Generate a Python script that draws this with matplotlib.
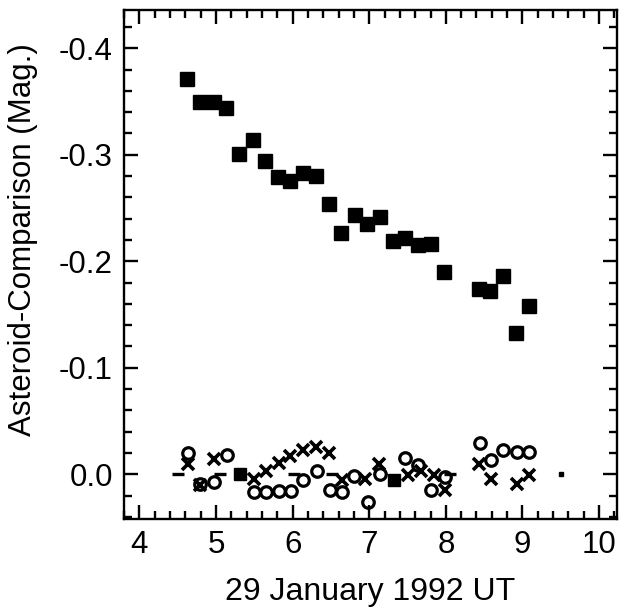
import matplotlib
matplotlib.use("Agg")
import matplotlib.pyplot as plt
from matplotlib.ticker import MultipleLocator, FormatStrFormatter

plt.rcParams['font.family'] = ['Liberation Sans', 'DejaVu Sans']
plt.rcParams['axes.unicode_minus'] = False

# asteroid - comparison (filled squares)
sq_t = [4.62, 4.79, 4.97, 5.13, 5.30, 5.48, 5.64, 5.81, 5.97, 6.13, 6.30, 6.47, 6.63,
        6.81, 6.97, 7.14, 7.31, 7.47, 7.64, 7.81, 7.97, 8.43, 8.58, 8.74, 8.91, 9.09]
sq_m = [-0.371, -0.350, -0.350, -0.344, -0.301, -0.314, -0.294, -0.279, -0.275, -0.283,
        -0.280, -0.254, -0.227, -0.243, -0.235, -0.242, -0.219, -0.222, -0.215, -0.216,
        -0.190, -0.174, -0.172, -0.186, -0.133, -0.158]

# comparison star checks (open circles)
circ_t = [4.64, 4.79, 4.97, 5.14, 5.49, 5.65, 5.82, 5.98, 6.14, 6.32, 6.49, 6.64,
          6.80, 6.99, 7.14, 7.47, 7.64, 7.80, 7.99, 8.45, 8.59, 8.75, 8.93, 9.09]
circ_m = [-0.020, 0.009, 0.007, -0.018, 0.017, 0.017, 0.016, 0.016, 0.005, -0.003,
          0.015, 0.017, 0.002, 0.026, 0.0, -0.015, -0.009, 0.015, 0.003, -0.029,
          -0.013, -0.023, -0.021, -0.021]

# crosses
x_t = [4.64, 4.79, 4.97, 5.49, 5.65, 5.82, 5.97, 6.13, 6.30, 6.48, 6.64, 6.95,
       7.13, 7.50, 7.67, 7.84, 7.99, 8.43, 8.59, 8.93, 9.09]
x_m = [-0.010, 0.010, -0.014, 0.004, -0.003, -0.011, -0.017, -0.023, -0.026, -0.020,
       0.005, 0.004, -0.010, 0.001, -0.003, 0.001, 0.015, -0.010, 0.004, 0.009, 0.001]

# dashes at zero
d_t = [4.51, 5.05, 6.02, 6.52, 8.05]
d_m = [0.0, 0.0, 0.0, 0.0, 0.0]

# overlapping blobs near zero and a lone dot
blob_t = [5.31, 7.32]
blob_m = [0.0, 0.005]
dot_t = [9.50]
dot_m = [0.0]

fig = plt.figure(figsize=(6.28, 6.08), dpi=100)
ax = fig.add_axes([0.1975, 0.1464, 0.7845, 0.8372])

ax.plot(sq_t, sq_m, 's', color='black', markersize=9.6)
ax.plot(blob_t, blob_m, 's', color='black', markersize=8)
ax.plot(d_t, d_m, '_', color='black', markersize=9, mew=2.4)
ax.plot(circ_t, circ_m, 'o', mfc='none', mec='black', markersize=8.3, mew=2.3)
ax.plot(x_t, x_m, 'x', color='black', markersize=9, mew=2.6)
ax.plot(dot_t, dot_m, 's', color='black', markersize=3)

ax.set_xlim(3.8, 10.23)
ax.set_ylim(0.042, -0.436)

ax.xaxis.set_major_locator(MultipleLocator(1))
ax.xaxis.set_minor_locator(MultipleLocator(0.2))
ax.yaxis.set_major_locator(MultipleLocator(0.1))
ax.yaxis.set_minor_locator(MultipleLocator(0.02))
ax.yaxis.set_major_formatter(FormatStrFormatter('%.1f'))

ax.tick_params(which='both', direction='in', top=True, right=True, width=1.7,
               labelsize=22.5, colors='black')
ax.tick_params(which='major', length=10, pad=8)
ax.tick_params(which='minor', length=5.5)
for s in ax.spines.values():
    s.set_linewidth(1.7)

ax.set_xlabel('29 January 1992 UT', fontsize=23, labelpad=12)
ax.set_ylabel('Asteroid-Comparison (Mag.)', fontsize=22.5)
ax.yaxis.set_label_coords(-0.175, 0.548)

fig.savefig('out.png', dpi=100)
